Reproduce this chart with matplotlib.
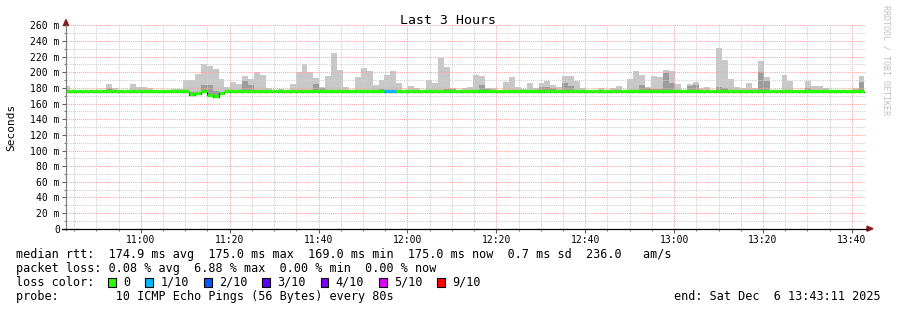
import matplotlib
matplotlib.use("Agg")
import matplotlib.pyplot as plt
from matplotlib.patches import Rectangle, Polygon
from matplotlib.lines import Line2D
from matplotlib.ticker import MultipleLocator, FuncFormatter
import numpy as np

W, H = 897, 310
MONO = "DejaVu Sans Mono"

# time axis in minutes after 10:00, one bar per 80 s step
step_min = 80 / 60.0
first_bar = 42.84
t_start, t_end = 43.183, 223.183

# smoke (max ping) per step, ms
smoke_max = [
    183, 175, 175, 175, 175, 175, 175, 185.5, 180.5, 175,
    175, 185.5, 181.5, 181.5, 180, 175, 175, 175, 178.5, 179,
    190.5, 190.5, 198, 210.5, 208, 204, 191, 181, 187, 184.5,
    195, 192, 200, 196.5, 180.5, 175, 179, 175, 185.5, 200.5,
    210, 201, 193, 181, 195.7, 225, 203, 181, 175, 194.4,
    205.6, 202, 184, 190.6, 197, 202, 185.8, 175, 183, 180,
    175, 190.6, 185.8, 218.7, 207.3, 180, 175, 180, 181.7, 197,
    195.5, 180, 180.2, 175, 187, 194.5, 181, 178.5, 185.8, 179.8,
    185.8, 189.4, 183.5, 181, 195.7, 195.7, 189.4, 180.2, 175, 175,
    180.2, 175, 179.5, 183, 175, 191.7, 202, 197, 181, 195.7,
    193.8, 203.2, 202, 184.5, 175, 185, 188, 180.2, 181.5, 175,
    231, 216, 192, 181, 180, 185.8, 179.5, 214.7, 194.5, 175,
    175, 197, 188.5, 175, 175, 189.4, 183, 183, 180.2, 175,
    175, 175, 175, 179.5, 195.7,
]
# darker inner smoke per step, ms
smoke_mid = [
    175, 175, 175, 175, 175, 175, 175, 179.5, 178, 175,
    175, 175, 175, 175, 175, 175, 175, 175, 175, 175,
    175, 175, 175, 184, 184, 176, 175, 175, 177, 175,
    189.5, 184, 177, 175, 175, 175, 175, 175, 175, 175,
    175, 175, 185.5, 180, 175, 175, 175, 175, 175, 178,
    175, 175, 175, 179, 175, 175, 175, 175, 175, 175,
    175, 178, 175, 175, 179, 179, 175, 175, 175, 175,
    184, 179, 175, 175, 175, 175, 175, 175, 175, 175,
    181, 181.5, 180, 175, 186.2, 183, 175, 175, 175, 175,
    175, 175, 175, 175, 175, 175, 175, 184, 180, 178.5,
    178.5, 198.5, 186.5, 175, 175, 182, 184, 175, 175, 175,
    181.5, 179.5, 175, 175, 175, 175, 175, 201, 188.5, 175,
    175, 175, 175, 175, 175, 180, 175, 175, 175, 175,
    175, 175, 175, 175, 187,
]
# median rtt per step, ms
median = [175.0] * 135
median[21], median[22], median[24], median[25], median[26] = 171.5, 172.7, 171, 169, 173.5
# packet loss class per step (index into loss_labels)
loss = [0] * 135
loss[54] = loss[55] = 1

loss_labels = ["0", "1/10", "2/10", "3/10", "4/10", "5/10", "9/10"]
loss_colors = ["#26ff00", "#00b8ff", "#0059ff", "#5e00ff", "#7e00ff", "#dd00ff", "#ff0000"]

rtt_avg, rtt_max, rtt_min, rtt_now, rtt_sd, rtt_ams = 174.9, 175.0, 169.0, 175.0, 0.7, 236.0
pl_avg, pl_max, pl_min, pl_now = 0.08, 6.88, 0.00, 0.00
end_text = "end: Sat Dec  6 13:43:11 2025"


def fx(x):
    return x / W


def fy(y):
    return 1 - y / H


fig = plt.figure(figsize=(W / 100, H / 100), dpi=100)
ax = fig.add_axes([fx(66), fy(228.7), 800 / W, (228.7 - 25.4) / H])

n = len(smoke_max)
x = first_bar + np.arange(n) * step_min
med = np.array(median)
hi = np.array(smoke_max)
mid = np.array(smoke_mid)

ax.bar(x, hi - med, bottom=med, width=step_min, align="edge", color="#c8c8c8", lw=0, zorder=1)
ax.bar(x, mid - med, bottom=med, width=step_min, align="edge", color="#9c9c9c", lw=0, zorder=1.2)

edges = np.append(x, x[-1] + step_min)
ax.step(edges, np.append(med, med[-1]), where="post", color="black", lw=0.8, zorder=3)
ax.hlines(med + 0.6, x, x + step_min, colors=[loss_colors[l] for l in loss], lw=2.4, zorder=4,
          capstyle="butt")

ax.set_xlim(t_start, t_end)
ax.set_ylim(0, 260)

ax.xaxis.set_major_locator(MultipleLocator(20))
ax.xaxis.set_minor_locator(MultipleLocator(5))
ax.yaxis.set_major_locator(MultipleLocator(20))
ax.yaxis.set_minor_locator(MultipleLocator(10))
ax.xaxis.set_major_formatter(FuncFormatter(lambda v, p: f"{int(v // 60) + 10}:{int(round(v % 60)):02d}"))
ax.yaxis.set_major_formatter(FuncFormatter(lambda v, p: "0" if v == 0 else f"{int(v)} m"))

ax.set_axisbelow(False)
ax.grid(which="major", color="#f2a8a8", ls=(0, (1, 1)), lw=0.75)
ax.grid(which="minor", color="#cfcfcf", ls=(0, (1, 1)), lw=0.75)

for s in ["top", "right", "left", "bottom"]:
    ax.spines[s].set_visible(False)

ax.tick_params(axis="both", which="major", length=3, width=0.8, color="#606060",
               labelsize=7, pad=1.5)
ax.tick_params(axis="both", which="minor", length=1.5, width=0.6, color="#606060")
for lab in ax.get_xticklabels() + ax.get_yticklabels():
    lab.set_fontfamily(MONO)

# axis lines with arrows
fig.add_artist(Line2D([fx(66), fx(66)], [fy(230), fy(25)], color="#808080", lw=0.9))
fig.add_artist(Line2D([fx(62), fx(867)], [fy(228.7), fy(228.7)], color="black", lw=0.9))
fig.add_artist(Polygon([(fx(63.5), fy(25.5)), (fx(68.5), fy(25.5)), (fx(66), fy(19.5))],
                       closed=True, color="#8b1a1a", transform=fig.transFigure))
fig.add_artist(Polygon([(fx(867), fy(226.2)), (fx(867), fy(231.2)), (fx(873), fy(228.7))],
                       closed=True, color="#8b1a1a", transform=fig.transFigure))

fig.text(fx(448), fy(24.5), "Last 3 Hours", family=MONO, fontsize=9.5, ha="center", va="baseline")
fig.text(fx(11.2), fy(127), "Seconds", family=MONO, fontsize=8, rotation=90, ha="center", va="center")
fig.text(fx(886), fy(60), "RRDTOOL / TOBI OETIKER", family=MONO, fontsize=6, rotation=-90,
         ha="center", va="center", color="#c0c0c0")

lf = 8.5
fig.text(fx(16), fy(257.7),
         f"median rtt:  {rtt_avg:.1f} ms avg  {rtt_max:.1f} ms max  {rtt_min:.1f} ms min  "
         f"{rtt_now:.1f} ms now  {rtt_sd:.1f} ms sd  {rtt_ams:.1f}   am/s",
         family=MONO, fontsize=lf, va="baseline")
fig.text(fx(16), fy(271.7),
         f"packet loss: {pl_avg:.2f} % avg  {pl_max:.2f} % max  {pl_min:.2f} % min  {pl_now:.2f} % now",
         family=MONO, fontsize=lf, va="baseline")
fig.text(fx(16), fy(285.7), "loss color:", family=MONO, fontsize=lf, va="baseline")
fig.text(fx(16), fy(300), "probe:        10 ICMP Echo Pings (56 Bytes) every 80s",
         family=MONO, fontsize=lf, va="baseline")
fig.text(fx(881), fy(300), end_text, family=MONO, fontsize=lf, va="baseline", ha="right")

cw = 7.1
bx = 16 + 13 * cw
for lab, col in zip(loss_labels, loss_colors):
    fig.add_artist(Rectangle((fx(bx), fy(286.7)), 7.7 / W, 8.4 / H, facecolor=col,
                             edgecolor="black", lw=0.8, transform=fig.transFigure))
    tx = bx + 15
    fig.text(fx(tx), fy(285.7), lab, family=MONO, fontsize=lf, va="baseline")
    bx = tx + len(lab) * cw + 15

fig.savefig("out.png", dpi=100)
